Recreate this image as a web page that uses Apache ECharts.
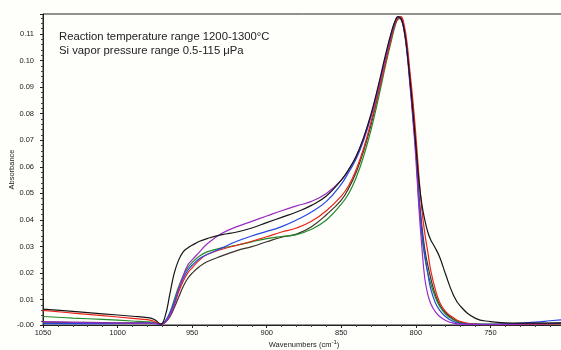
<!DOCTYPE html>
<html>
<head>
<meta charset="utf-8">
<script src="https://cdn.jsdelivr.net/npm/echarts@6/dist/echarts.min.js"></script>
<style>
  html, body { margin: 0; padding: 0; background: #fefefb; }
  #chart { width: 561px; height: 350px; }
</style>
</head>
<body>
<div id="chart"></div>
<script>
// wavenumbers (cm-1), shared by every spectrum
const wavenumbers = [1050, 1030, 1010, 990, 980, 975, 971, 968, 965, 962,
  959, 956, 953, 950, 945, 940, 930, 920, 910, 900,
  890, 880, 870, 860, 850, 845, 840, 835, 830, 825,
  820, 816, 814, 812, 810, 808, 806, 804, 802, 800,
  798, 796, 794, 792, 790, 787, 784, 780, 775, 770,
  760, 750, 740, 730, 720, 710, 702]

const blackAbs = [0.0065, 0.0056, 0.0047, 0.0038, 0.0033, 0.0025, 0.0008, 0.004, 0.012, 0.020,
  0.025, 0.028, 0.0295, 0.0305, 0.032, 0.033, 0.0345, 0.0355, 0.037, 0.039,
  0.041, 0.043, 0.0455, 0.049, 0.055, 0.059, 0.064, 0.071, 0.080, 0.091,
  0.103, 0.1115, 0.1148, 0.1165, 0.1158, 0.112, 0.104, 0.093, 0.081, 0.068,
  0.055, 0.046, 0.040, 0.0355, 0.0325, 0.0295, 0.026, 0.0195, 0.012, 0.0075,
  0.003, 0.0018, 0.0013, 0.0012, 0.0012, 0.0012, 0.0012]

const purpleAbs = [0.0018, 0.0015, 0.0013, 0.0012, 0.0012, 0.0011, 0.0007, 0.0015, 0.004, 0.008,
  0.014, 0.019, 0.023, 0.025, 0.028, 0.031, 0.035, 0.0375, 0.0395, 0.0415,
  0.0435, 0.0453, 0.047, 0.050, 0.055, 0.059, 0.064, 0.071, 0.0795, 0.090,
  0.102, 0.111, 0.1145, 0.1163, 0.1155, 0.1115, 0.103, 0.091, 0.078, 0.063,
  0.045, 0.030, 0.018, 0.012, 0.0085, 0.0055, 0.0037, 0.0022, 0.0012, 0.0008,
  0.0006, 0.0006, 0.0007, 0.0008, 0.0009, 0.001, 0.0011]

const blueAbs = [0.001, 0.001, 0.001, 0.0011, 0.0012, 0.0011, 0.0007, 0.002, 0.005, 0.009,
  0.014, 0.018, 0.021, 0.023, 0.0255, 0.027, 0.0295, 0.032, 0.034, 0.0357,
  0.0375, 0.040, 0.043, 0.047, 0.0535, 0.058, 0.063, 0.070, 0.079, 0.090,
  0.102, 0.1108, 0.1143, 0.1163, 0.1157, 0.1118, 0.104, 0.092, 0.079, 0.066,
  0.049, 0.036, 0.027, 0.020, 0.014, 0.009, 0.006, 0.0036, 0.0018, 0.001,
  0.0007, 0.0007, 0.0009, 0.0012, 0.0016, 0.0021, 0.0025]

const greenAbs = [0.0037, 0.0031, 0.0026, 0.002, 0.0017, 0.0014, 0.0008, 0.002, 0.005, 0.010,
  0.015, 0.019, 0.022, 0.024, 0.0265, 0.028, 0.0295, 0.0305, 0.0318, 0.033,
  0.0338, 0.0345, 0.0365, 0.040, 0.046, 0.050, 0.056, 0.064, 0.074, 0.086,
  0.099, 0.1085, 0.1128, 0.1155, 0.1158, 0.1125, 0.105, 0.093, 0.080, 0.066,
  0.047, 0.034, 0.026, 0.020, 0.016, 0.011, 0.0075, 0.0045, 0.0025, 0.0012,
  0.0007, 0.0006, 0.0007, 0.0008, 0.0009, 0.0009, 0.001]

const redAbs = [0.006, 0.005, 0.004, 0.003, 0.0025, 0.0018, 0.0007, 0.0015, 0.004, 0.008,
  0.013, 0.017, 0.020, 0.022, 0.025, 0.027, 0.029, 0.0305, 0.032, 0.0337,
  0.0355, 0.037, 0.0395, 0.0435, 0.049, 0.053, 0.059, 0.067, 0.077, 0.088,
  0.100, 0.1095, 0.1135, 0.1158, 0.1165, 0.1138, 0.107, 0.096, 0.085, 0.072,
  0.057, 0.044, 0.035, 0.028, 0.021, 0.014, 0.009, 0.0055, 0.0033, 0.0018,
  0.0008, 0.0006, 0.0006, 0.0007, 0.0008, 0.0009, 0.001]

const darkAbs = [0.0016, 0.0015, 0.0014, 0.0013, 0.0013, 0.0012, 0.0008, 0.0015, 0.0035, 0.007,
  0.011, 0.015, 0.018, 0.020, 0.0225, 0.0243, 0.0265, 0.0285, 0.030, 0.0318,
  0.0335, 0.0347, 0.0375, 0.042, 0.0475, 0.052, 0.058, 0.066, 0.076, 0.088,
  0.100, 0.1095, 0.1135, 0.1158, 0.116, 0.1125, 0.105, 0.094, 0.082, 0.068,
  0.050, 0.038, 0.029, 0.023, 0.018, 0.012, 0.008, 0.005, 0.0028, 0.0015,
  0.0008, 0.0008, 0.0009, 0.001, 0.0011, 0.0012, 0.0013]

const spectra = [
  { name: 'dark', color: '#3a3328', values: darkAbs },
  { name: 'green', color: '#238a2a', values: greenAbs },
  { name: 'red', color: '#ec2418', values: redAbs },
  { name: 'blue', color: '#2646e0', values: blueAbs },
  { name: 'purple', color: '#9a2cc4', values: purpleAbs },
  { name: 'black', color: '#161616', values: blackAbs },
]

const Y_MIN = 0.0005
const Y_MAX = 0.1175
const font = 'Liberation Sans, Arial, sans-serif'

const chart = echarts.init(document.getElementById('chart'))

chart.setOption({
  animation: false,
  backgroundColor: '#fefefb',
  title: {
    text: 'Reaction temperature range 1200-1300°C\nSi vapor pressure range 0.5-115 \u03bcPa',
    left: 59,
    top: 30,
    padding: 0,
    textStyle: { fontFamily: font, fontSize: 11.3, fontWeight: 'normal', color: '#222', lineHeight: 14 },
  },
  grid: {
    left: 43, right: -4, top: 14, bottom: 25,
    outerBoundsMode: 'none',
    show: true, borderColor: '#222', borderWidth: 1,
  },
  xAxis: {
    type: 'value',
    inverse: true,
    min: 700,
    max: 1050,
    interval: 50,
    name: 'Wavenumbers (cm{sup|-1})',
    nameLocation: 'middle',
    nameGap: 14,
    nameMoveOverlap: false,
    nameTextStyle: {
      fontFamily: font, fontSize: 7.5, color: '#222',
      rich: { sup: { fontSize: 6, verticalAlign: 'top', padding: [0, 0, 6, 0] } },
    },
    axisLine: { lineStyle: { color: '#222' } },
    axisTick: { length: 3, lineStyle: { color: '#222' } },
    minorTick: { show: true, splitNumber: 5, length: 2, lineStyle: { color: '#444' } },
    axisLabel: {
      fontFamily: font, fontSize: 7.5, color: '#222', margin: 4,
      formatter: v => (v === 700 ? '' : String(v)),
    },
    splitLine: { show: false },
  },
  yAxis: {
    type: 'value',
    min: Y_MIN,
    max: Y_MAX,
    splitNumber: 12,
    name: 'Absorbance',
    nameLocation: 'middle',
    nameGap: 27,
    nameMoveOverlap: false,
    nameTextStyle: { fontFamily: font, fontSize: 7.5, color: '#222' },
    axisLine: { show: true, lineStyle: { color: '#222' } },
    axisTick: { show: true, length: 3, lineStyle: { color: '#222' } },
    minorTick: { show: true, splitNumber: 5, length: 2, lineStyle: { color: '#444' } },
    axisLabel: {
      fontFamily: font, fontSize: 7.5, color: '#222', margin: 9,
      showMinLabel: true,
      formatter: v => {
        if (v < 0.005) return '-0.00'
        if (v > 0.115) return ''
        return v.toFixed(2)
      },
    },
    splitLine: { show: false },
  },
  series: spectra.map(s => ({
    name: s.name,
    type: 'line',
    data: wavenumbers.map((w, i) => [w, s.values[i]]),
    showSymbol: false,
    smooth: 0.45,
    clip: true,
    lineStyle: { width: 1.2, color: s.color },
    itemStyle: { color: s.color },
  })),
})
</script>
</body>
</html>
